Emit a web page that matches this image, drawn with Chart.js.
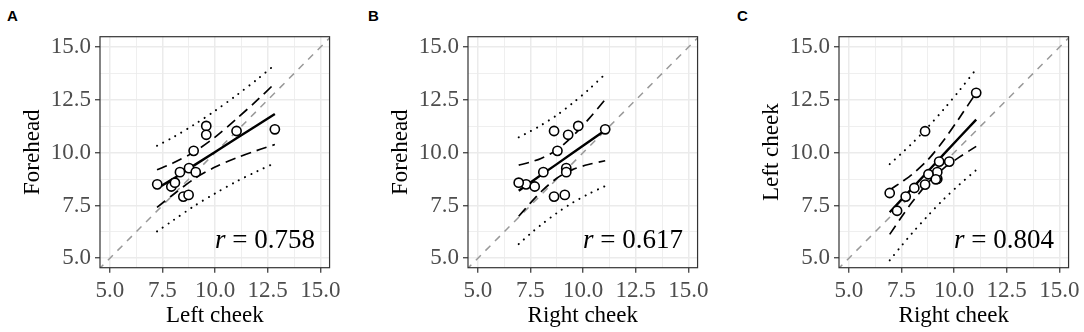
<!DOCTYPE html>
<html>
<head>
<meta charset="utf-8">
<title>Forehead vs cheek</title>
<script src="https://cdn.jsdelivr.net/npm/chart.js@4.4.1/dist/chart.umd.min.js"></script>
<style>
  html, body { margin: 0; padding: 0; background: #fff; }
  body { width: 1084px; height: 332px; position: relative; overflow: hidden; }
  canvas { position: absolute; top: 0; }
  .tag { position: absolute; top: 7px; line-height: 15px; font: bold 15px "Liberation Sans", Arial, sans-serif; color: #000; }
</style>
</head>
<body>
<div class="tag" style="left:7px">A</div>
<div class="tag" style="left:368px">B</div>
<div class="tag" style="left:737px">C</div>
<canvas id="chartA" width="345" height="332" style="left:0px"></canvas>
<canvas id="chartB" width="345" height="332" style="left:368px"></canvas>
<canvas id="chartC" width="345" height="332" style="left:739px"></canvas>
<script>
// one value per subject
const forehead   = [8.50, 8.40, 8.58, 9.08, 9.27, 9.08, 10.09, 7.92, 8.00, 11.27, 10.85, 11.03, 11.11]
const leftCheek  = [7.25, 7.92, 8.09, 8.33, 8.76, 9.08, 8.98, 8.49, 8.74, 9.58, 9.58, 11.02, 12.84]
const rightCheek = [7.29, 7.70, 6.94, 8.11, 9.20, 9.20, 8.78, 8.62, 9.13, 9.77, 9.29, 8.62, 11.05]

// axes
const axisTicks  = [5, 7.5, 10, 12.5, 15]
const minorTicks = [6.25, 8.75, 11.25, 13.75]
const xRange = [4.53, 15.44]
const yRange = [4.55, 15.5]
const identityLine = [4, 16]

// panel A: fit, 95% CI (dashed), prediction interval (dotted)
const bandXA    = [7.24, 8.0, 9.0, 10.0, 11.0, 12.0, 12.84]
const fitA      = [8.30, 8.76, 9.40, 10.03, 10.67, 11.30, 11.84]
const ciUpperA  = [9.19, 9.51, 10.04, 10.74, 11.59, 12.49, 13.29]
const ciLowerA  = [7.41, 8.01, 8.76, 9.32, 9.75, 10.11, 10.39]
const piUpperA  = [10.33, 10.73, 11.33, 11.99, 12.71, 13.48, 14.17]
const piLowerA  = [6.27, 6.79, 7.47, 8.07, 8.63, 9.12, 9.51]

// panel B
const bandXB    = [6.94, 7.5, 8.0, 8.75, 9.5, 10.25, 11.05]
const fitB      = [8.20, 8.59, 8.94, 9.46, 9.99, 10.51, 11.07]
const ciUpperB  = [9.41, 9.56, 9.73, 10.13, 10.78, 11.58, 12.52]
const ciLowerB  = [6.99, 7.62, 8.15, 8.79, 9.20, 9.44, 9.62]
const piUpperB  = [10.73, 11.02, 11.30, 11.78, 12.35, 12.98, 13.73]
const piLowerB  = [5.67, 6.17, 6.58, 7.14, 7.63, 8.04, 8.42]

// panel C
const bandXC    = [6.94, 7.5, 8.0, 8.75, 9.5, 10.25, 11.05]
const fitC      = [7.18, 7.78, 8.31, 9.11, 9.92, 10.72, 11.57]
const ciUpperC  = [8.23, 8.61, 8.97, 9.66, 10.58, 11.65, 12.84]
const ciLowerC  = [6.13, 6.95, 7.65, 8.56, 9.26, 9.79, 10.30]
const piUpperC  = [9.46, 9.97, 10.44, 11.21, 12.05, 12.95, 13.96]
const piLowerC  = [4.90, 5.59, 6.18, 7.01, 7.79, 8.49, 9.18]

const rValues = ['0.758', '0.617', '0.804']
const rLabelPos = [14.75, 5.5]

const SERIF = '"Liberation Serif", "Times New Roman", serif'

function isMajor(v) {
  return axisTicks.some(t => Math.abs(t - v) < 1e-6)
}

// box around the plotting area (theme_bw look)
const panelBox = {
  id: 'panelBox',
  afterDraw(chart) {
    const { ctx, chartArea: a } = chart
    ctx.save()
    ctx.strokeStyle = '#333333'
    ctx.lineWidth = 1.2
    ctx.strokeRect(a.left, a.top, a.width, a.height)
    ctx.restore()
  }
}

// "r = 0.xxx" with italic r, right aligned
const rLabel = {
  id: 'rLabel',
  afterDatasetsDraw(chart, args, opts) {
    const { ctx, scales } = chart
    const px = scales.x.getPixelForValue(opts.x)
    const py = scales.y.getPixelForValue(opts.y)
    const rest = ' = ' + opts.value
    ctx.save()
    ctx.fillStyle = '#000'
    ctx.textBaseline = 'alphabetic'
    ctx.textAlign = 'left'
    ctx.font = '27px ' + SERIF
    const w = ctx.measureText(rest).width
    ctx.fillText(rest, px - w, py)
    ctx.font = 'italic 27px ' + SERIF
    ctx.textAlign = 'right'
    ctx.fillText('r', px - w, py)
    ctx.restore()
  }
}

function axis(range, title, position) {
  return {
    type: 'linear',
    position,
    min: range[0],
    max: range[1],
    afterBuildTicks: scale => {
      scale.ticks = axisTicks.concat(minorTicks).sort((a, b) => a - b).map(v => ({ value: v }))
    },
    afterFit: scale => {
      if (position === 'left') scale.width = 81
      else scale.height = 61.8
    },
    ticks: {
      autoSkip: false,
      maxRotation: 0,
      color: '#4D4D4D',
      padding: 4,
      font: { family: SERIF, size: 23 },
      callback: v => isMajor(v) ? v.toFixed(1) : ''
    },
    grid: {
      color: '#EBEBEB',
      lineWidth: ctx => isMajor(ctx.tick.value) ? 1.5 : 0.8,
      tickColor: ctx => isMajor(ctx.tick.value) ? '#333333' : 'rgba(0,0,0,0)',
      tickLength: 5,
      tickWidth: 1.2
    },
    border: { display: false },
    title: {
      display: true,
      text: title,
      color: '#000',
      padding: 0,
      font: { family: SERIF, size: 23 }
    }
  }
}

function line(xs, ys, style) {
  return Object.assign({
    data: xs.map((x, i) => ({ x, y: ys[i] })),
    showLine: true,
    pointRadius: 0,
    fill: false,
    tension: 0.3,
    borderColor: '#000'
  }, style)
}

function makePanel(id, xs, ys, band, xTitle, yTitle, r) {
  const dashed = { borderWidth: 1.7, borderDash: [10.5, 6] }
  const dotted = { borderWidth: 2, borderDash: [0.1, 6.8], borderCapStyle: 'round' }
  new Chart(document.getElementById(id), {
    type: 'scatter',
    data: {
      datasets: [
        {
          data: xs.map((x, i) => ({ x, y: ys[i] })),
          pointRadius: 4.6,
          pointBorderWidth: 1.6,
          pointBackgroundColor: '#fff',
          pointBorderColor: '#000'
        },
        line(band.x, band.fit, { borderWidth: 2.4, tension: 0 }),
        line(band.x, band.ciUpper, dashed),
        line(band.x, band.ciLower, dashed),
        line(band.x, band.piUpper, dotted),
        line(band.x, band.piLower, dotted),
        line(identityLine, identityLine, { borderColor: '#999999', borderWidth: 1.5, borderDash: [7, 6.5], tension: 0 })
      ]
    },
    options: {
      responsive: false,
      animation: false,
      events: [],
      layout: { padding: { left: 19, right: 14, top: 36.7, bottom: 2.5 } },
      plugins: {
        legend: { display: false },
        tooltip: { enabled: false },
        rLabel: { x: rLabelPos[0], y: rLabelPos[1], value: r }
      },
      scales: {
        x: axis(xRange, xTitle, 'bottom'),
        y: axis(yRange, yTitle, 'left')
      }
    },
    plugins: [panelBox, rLabel]
  })
}

makePanel('chartA', leftCheek, forehead,
  { x: bandXA, fit: fitA, ciUpper: ciUpperA, ciLower: ciLowerA, piUpper: piUpperA, piLower: piLowerA },
  'Left cheek', 'Forehead', rValues[0])

makePanel('chartB', rightCheek, forehead,
  { x: bandXB, fit: fitB, ciUpper: ciUpperB, ciLower: ciLowerB, piUpper: piUpperB, piLower: piLowerB },
  'Right cheek', 'Forehead', rValues[1])

makePanel('chartC', rightCheek, leftCheek,
  { x: bandXC, fit: fitC, ciUpper: ciUpperC, ciLower: ciLowerC, piUpper: piUpperC, piLower: piLowerC },
  'Right cheek', 'Left cheek', rValues[2])
</script>
</body>
</html>
